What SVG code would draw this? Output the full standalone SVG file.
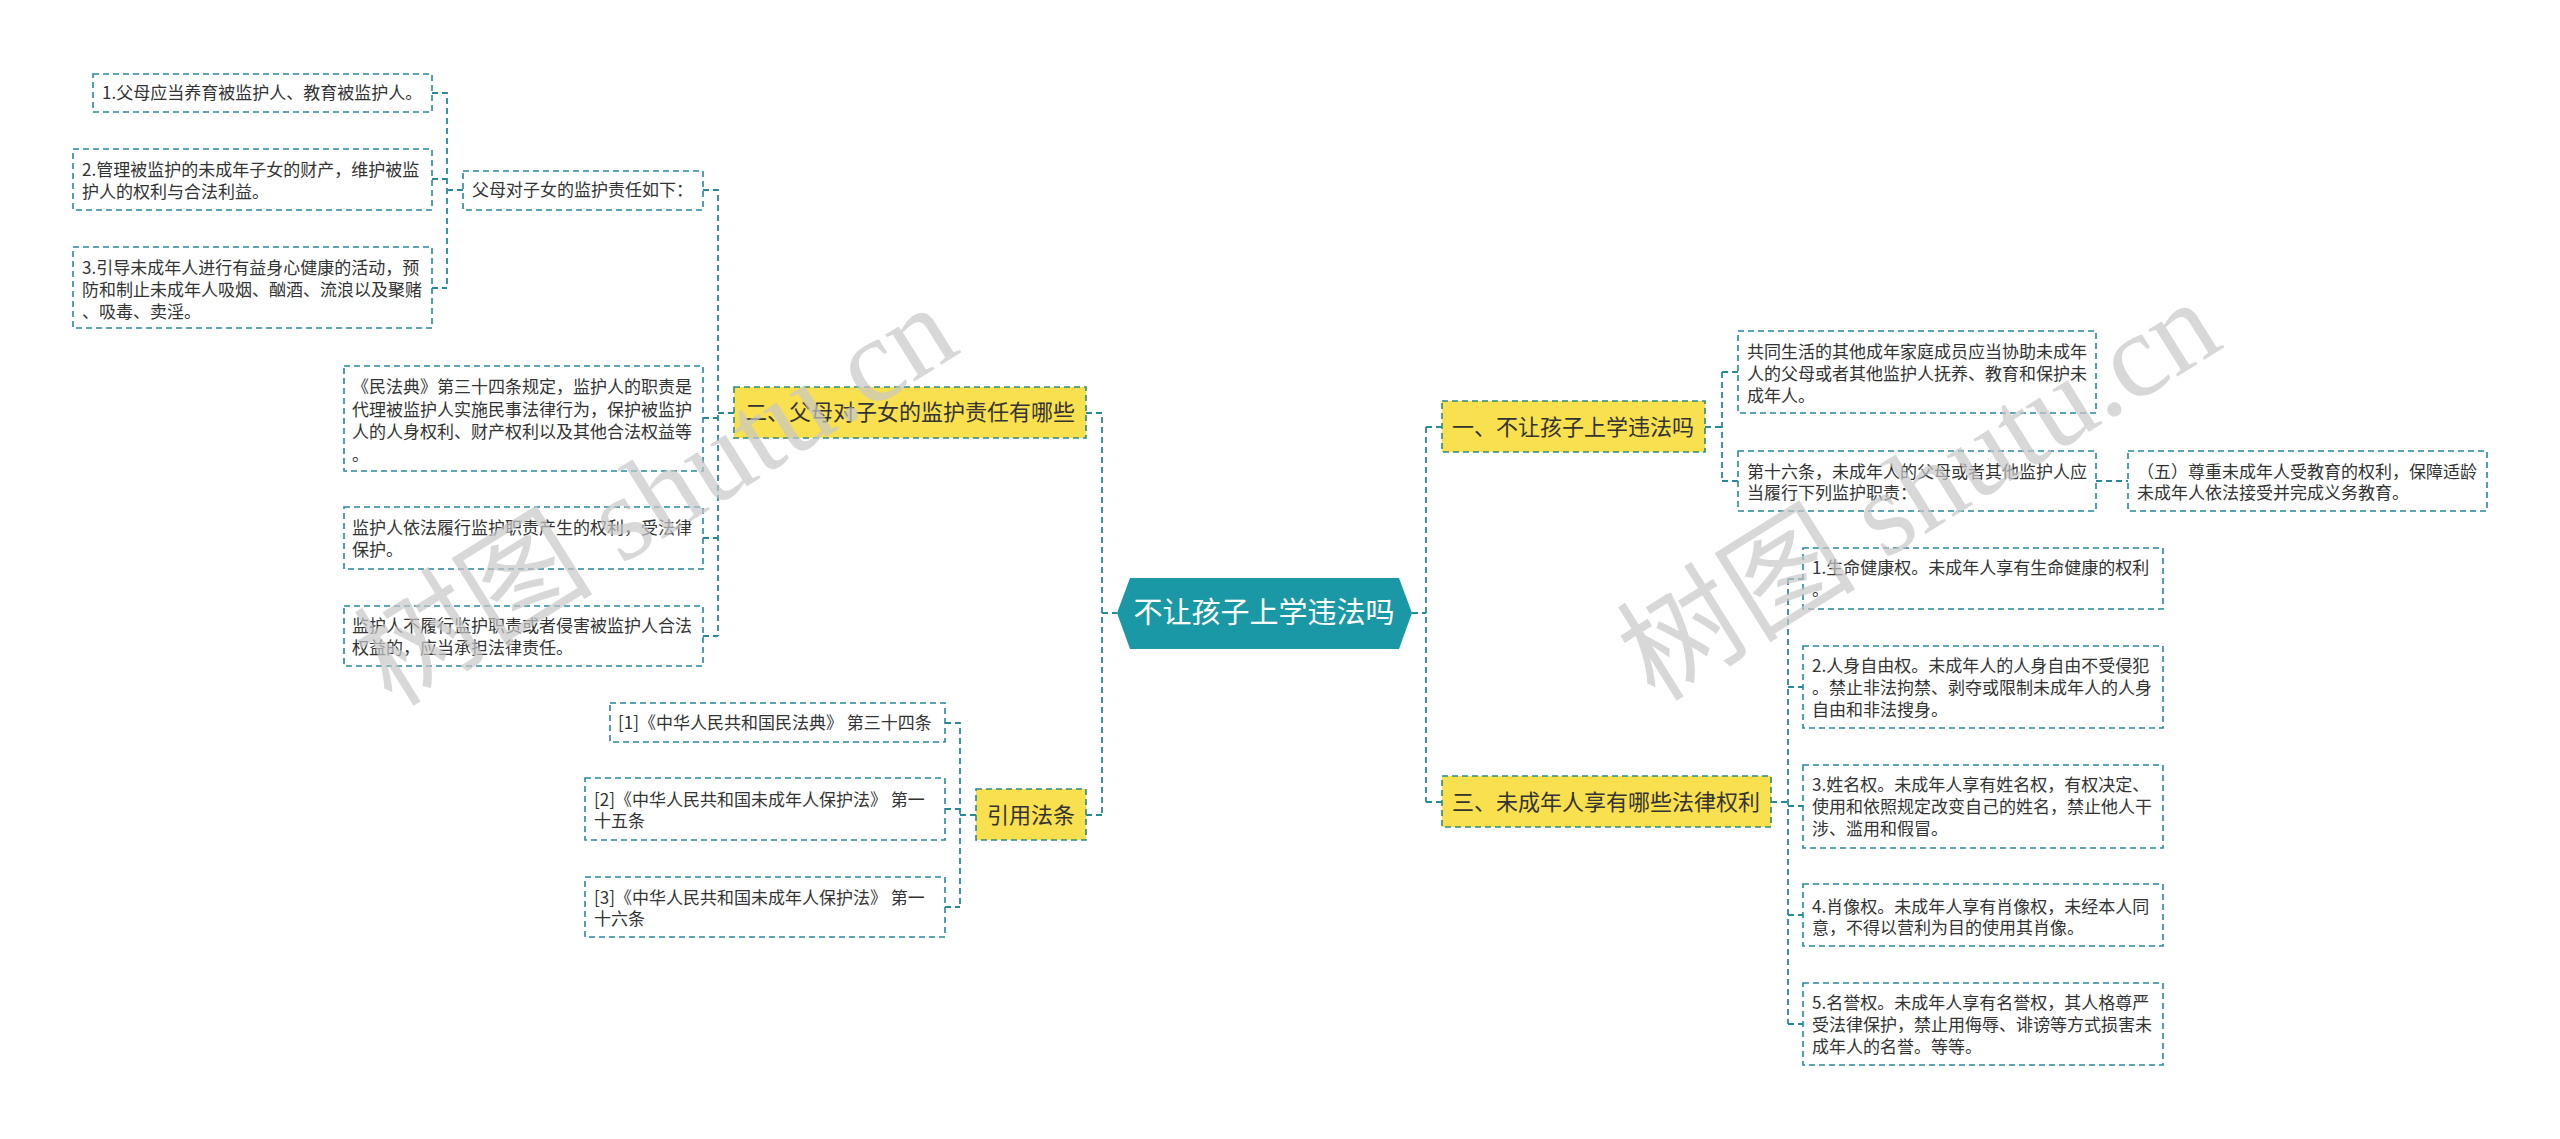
<svg xmlns="http://www.w3.org/2000/svg" width="2560" height="1139" viewBox="0 0 2560 1139">
<style>
.bx{fill:#ffffff;stroke:#26899a;stroke-width:1.6;stroke-dasharray:6 4}
.yb{fill:#f9e04f;stroke:#2a8a84;stroke-width:1.6;stroke-dasharray:6 4}
.t{font-family:"Noto Sans CJK SC","Noto Sans",sans-serif;font-size:17px;fill:#333333}
.yt{font-family:"Noto Sans CJK SC","Noto Sans",sans-serif;font-size:22px;fill:#333333;text-anchor:middle}
.ct{font-family:"Noto Sans CJK SC","Noto Sans",sans-serif;font-size:29px;fill:#ffffff;text-anchor:middle}
.cn{fill:none;stroke:#26899a;stroke-width:1.8;stroke-dasharray:6 4}
.wm{font-family:"Liberation Serif","Noto Sans CJK SC",serif;font-size:120px;fill:#c8c8c8;fill-opacity:0.7}
</style>
<rect width="2560" height="1139" fill="#ffffff"/>
<g id="connectors">
<path class="cn" d="M432 93H447V288M432 179H447M432 288H447M447 190H463"/>
<path class="cn" d="M703 190H718V636M703 418H718M703 538H718M703 636H718M718 413H734"/>
<path class="cn" d="M945 723H960V907M945 809H960M945 907H960M960 815H976"/>
<path class="cn" d="M1086 413H1102V815M1086 815H1102M1102 613H1117"/>
<path class="cn" d="M1412 613H1426M1426 427V802M1426 427H1442M1426 802H1442"/>
<path class="cn" d="M1705 427H1722M1722 372V481M1722 372H1738M1722 481H1738M2096 481H2128"/>
<path class="cn" d="M1771 802H1788M1788 579V1024M1788 579H1803M1788 687H1803M1788 806H1803M1788 915H1803M1788 1024H1803"/>
</g>
<g id="center">
<polygon points="1117,613 1130,578 1399,578 1412,613 1399,649 1130,649" fill="#1b98a6"/>
<text class="ct" x="1264" y="623">不让孩子上学违法吗</text>
</g>
<g id="a1"><rect class="bx" x="93" y="74" width="339" height="38"/><text class="t" x="102" y="99">1.父母应当养育被监护人、教育被监护人。</text></g>
<g id="a2"><rect class="bx" x="73" y="149" width="359" height="61"/><text class="t" x="82" y="176">2.管理被监护的未成年子女的财产，维护被监</text><text class="t" x="82" y="198">护人的权利与合法利益。</text></g>
<g id="a3"><rect class="bx" x="73" y="247" width="359" height="81"/><text class="t" x="82" y="274">3.引导未成年人进行有益身心健康的活动，预</text><text class="t" x="82" y="296">防和制止未成年人吸烟、酗酒、流浪以及聚赌</text><text class="t" x="82" y="318">、吸毒、卖淫。</text></g>
<g id="p1"><rect class="bx" x="463" y="171" width="240" height="39"/><text class="t" x="472" y="196">父母对子女的监护责任如下：</text></g>
<g id="b1"><rect class="bx" x="344" y="366" width="359" height="105"/><text class="t" x="352" y="393">《民法典》第三十四条规定，监护人的职责是</text><text class="t" x="352" y="416">代理被监护人实施民事法律行为，保护被监护</text><text class="t" x="352" y="438">人的人身权利、财产权利以及其他合法权益等</text><text class="t" x="352" y="461">。</text></g>
<g id="b2"><rect class="bx" x="344" y="507" width="359" height="62"/><text class="t" x="352" y="534">监护人依法履行监护职责产生的权利，受法律</text><text class="t" x="352" y="556">保护。</text></g>
<g id="b3"><rect class="bx" x="344" y="606" width="359" height="60"/><text class="t" x="352" y="632">监护人不履行监护职责或者侵害被监护人合法</text><text class="t" x="352" y="654">权益的，应当承担法律责任。</text></g>
<g id="y1"><rect class="yb" x="734" y="387" width="352" height="51"/><text class="yt" x="910" y="420">二、父母对子女的监护责任有哪些</text></g>
<g id="c1"><rect class="bx" x="610" y="703" width="335" height="39"/><text class="t" x="618" y="729">[1]《中华人民共和国民法典》 第三十四条</text></g>
<g id="c2"><rect class="bx" x="585" y="778" width="360" height="62"/><text class="t" x="594" y="806">[2]《中华人民共和国未成年人保护法》 第一</text><text class="t" x="594" y="827">十五条</text></g>
<g id="c3"><rect class="bx" x="585" y="877" width="360" height="60"/><text class="t" x="594" y="904">[3]《中华人民共和国未成年人保护法》 第一</text><text class="t" x="594" y="925">十六条</text></g>
<g id="y2"><rect class="yb" x="976" y="789" width="110" height="51"/><text class="yt" x="1031" y="823">引用法条</text></g>
<g id="r1"><rect class="yb" x="1442" y="401" width="263" height="51"/><text class="yt" x="1573" y="435">一、不让孩子上学违法吗</text></g>
<g id="d1"><rect class="bx" x="1738" y="331" width="358" height="82"/><text class="t" x="1747" y="358">共同生活的其他成年家庭成员应当协助未成年</text><text class="t" x="1747" y="380">人的父母或者其他监护人抚养、教育和保护未</text><text class="t" x="1747" y="402">成年人。</text></g>
<g id="d2"><rect class="bx" x="1738" y="451" width="358" height="60"/><text class="t" x="1747" y="478">第十六条，未成年人的父母或者其他监护人应</text><text class="t" x="1747" y="499">当履行下列监护职责：</text></g>
<g id="e1"><rect class="bx" x="2128" y="451" width="359" height="60"/><text class="t" x="2137" y="478">（五）尊重未成年人受教育的权利，保障适龄</text><text class="t" x="2137" y="499">未成年人依法接受并完成义务教育。</text></g>
<g id="r3"><rect class="yb" x="1442" y="776" width="329" height="51"/><text class="yt" x="1606" y="810">三、未成年人享有哪些法律权利</text></g>
<g id="f1"><rect class="bx" x="1803" y="548" width="360" height="61"/><text class="t" x="1812" y="574">1.生命健康权。未成年人享有生命健康的权利</text><text class="t" x="1812" y="596">。</text></g>
<g id="f2"><rect class="bx" x="1803" y="646" width="360" height="82"/><text class="t" x="1812" y="672">2.人身自由权。未成年人的人身自由不受侵犯</text><text class="t" x="1812" y="694">。禁止非法拘禁、剥夺或限制未成年人的人身</text><text class="t" x="1812" y="716">自由和非法搜身。</text></g>
<g id="f3"><rect class="bx" x="1803" y="765" width="360" height="83"/><text class="t" x="1812" y="791">3.姓名权。未成年人享有姓名权，有权决定、</text><text class="t" x="1812" y="813">使用和依照规定改变自己的姓名，禁止他人干</text><text class="t" x="1812" y="835">涉、滥用和假冒。</text></g>
<g id="f4"><rect class="bx" x="1803" y="884" width="360" height="62"/><text class="t" x="1812" y="913">4.肖像权。未成年人享有肖像权，未经本人同</text><text class="t" x="1812" y="934">意，不得以营利为目的使用其肖像。</text></g>
<g id="f5"><rect class="bx" x="1803" y="983" width="360" height="82"/><text class="t" x="1812" y="1009">5.名誉权。未成年人享有名誉权，其人格尊严</text><text class="t" x="1812" y="1031">受法律保护，禁止用侮辱、诽谤等方式损害未</text><text class="t" x="1812" y="1053">成年人的名誉。等等。</text></g>
<g id="watermarks">
<text class="wm" transform="translate(392,708) rotate(-32)">树图 shutu.cn</text>
<text class="wm" transform="translate(1655,703) rotate(-32)">树图 shutu.cn</text>
</g>
</svg>
